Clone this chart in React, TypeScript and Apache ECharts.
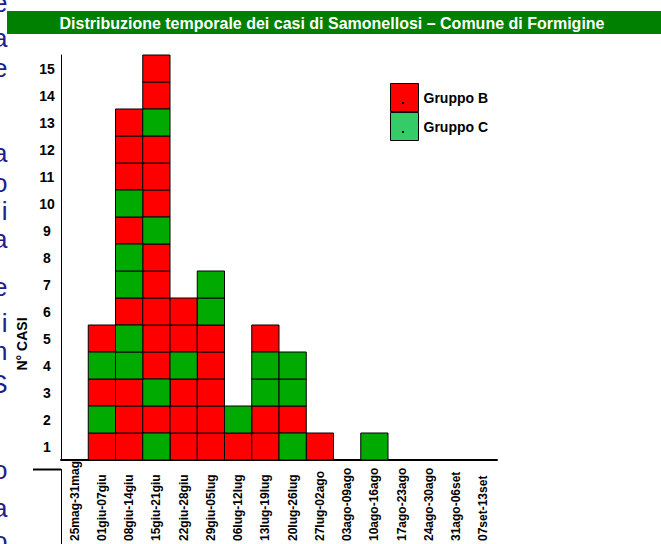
import React, { useEffect, useRef } from 'react';
import * as echarts from 'echarts';

// Weekly periods (x axis)
const categories = [
  '25mag-31mag', '01giu-07giu', '08giu-14giu', '15giu-21giu', '22giu-28giu',
  '29giu-05lug', '06lug-12lug', '13lug-19lug', '20lug-26lug', '27lug-02ago',
  '03ago-09ago', '10ago-16ago', '17ago-23ago', '24ago-30ago', '31ago-06set',
  '07set-13set',
];

// Case count tick labels (y axis)
const yTicks = ['1', '2', '3', '4', '5', '6', '7', '8', '9', '10', '11', '12', '13', '14', '15'];

// Cases per week, one letter per case from bottom to top: B = Gruppo B, C = Gruppo C
const weekCells = [
  '', 'BCBCB', 'BBBCCBCCBCBBB', 'CBCBBBBBCBBBCBB', 'BBBCBB', 'BBBBBCC', 'BC', 'BBCCB',
  'CBCC', 'B', '', 'C', '', '', '', '',
];

const groupNames = ['Gruppo B', 'Gruppo C'];
const groupKeys = ['B', 'C'];

// Fragments of the slide text cut off at the left edge
const slideLetters = ['e', 'a', 'e', 'a', 'o', 'i', 'a', 'e', 'i', 'n', 'S', 'o', 'a', 'o'];
const slideLetterY = [3, 38, 68, 153, 183, 211, 239, 287, 323, 351, 384, 470, 508, 541];

const FONT = "Arial, 'Liberation Sans', sans-serif";

export default function App() {
  const ref = useRef<HTMLDivElement>(null);

  useEffect(() => {
    document.body.style.margin = '0';
    const chart = echarts.init(ref.current!, null, { renderer: 'svg' });

    const colors = ['#ff0000', '#00aa00'];
    const legendColors = ['#ff0000', '#33cc66'];

    const series = groupKeys.map((key, gi) => {
      const data: number[][] = [];
      weekCells.forEach((cells, ci) => {
        cells.split('').forEach((ch, ri) => {
          if (ch === key) data.push([ci, ri]);
        });
      });
      return {
        type: 'custom',
        name: groupNames[gi],
        data,
        encode: { x: 0, y: 1 },
        itemStyle: { color: colors[gi] },
        renderItem: (params: any, api: any) => {
          const c = api.coord([api.value(0), api.value(1)]);
          const s = api.size([1, 1]);
          return {
            type: 'rect',
            shape: { x: c[0] - s[0] / 2, y: c[1] - s[1] / 2, width: s[0], height: s[1] },
            style: { fill: colors[gi], stroke: '#000', lineWidth: 1 },
          };
        },
      };
    });

    const graphic: any[] = [];
    slideLetters.forEach((ch, i) => {
      graphic.push({
        type: 'text',
        z: 0,
        style: {
          text: ch,
          x: 7.5,
          y: slideLetterY[i],
          font: `26px ${FONT}`,
          lineHeight: 22,
          fill: '#1e1e8c',
          textAlign: 'right',
          align: 'right',
          textVerticalAlign: 'middle',
          verticalAlign: 'middle',
        },
      });
    });
    graphic.push(
      {
        type: 'rect',
        shape: { x: 7, y: 11, width: 654, height: 23 },
        style: { fill: '#008000' },
      },
      {
        type: 'text',
        style: {
          text: 'Distribuzione temporale dei casi di Samonellosi – Comune di Formigine',
          x: 332,
          y: 23,
          font: `bold 16px ${FONT}`,
          fill: '#ffffff',
          textAlign: 'center',
          align: 'center',
          textVerticalAlign: 'middle',
          verticalAlign: 'middle',
        },
      },
      {
        type: 'text',
        rotation: Math.PI / 2,
        x: 22,
        y: 344,
        style: {
          text: 'N° CASI',
          x: 0,
          y: 0,
          font: `bold 14px ${FONT}`,
          fill: '#000',
          textAlign: 'center',
          align: 'center',
          textVerticalAlign: 'middle',
          verticalAlign: 'middle',
        },
      },
      {
        type: 'line',
        shape: { x1: 33, y1: 469.5, x2: 61, y2: 469.5 },
        style: { stroke: '#000', lineWidth: 2 },
      },
      {
        type: 'line',
        shape: { x1: 61.5, y1: 469, x2: 61.5, y2: 544 },
        style: { stroke: '#000', lineWidth: 1 },
      },
      {
        type: 'rect',
        shape: { x: 402, y: 102, width: 2, height: 2 },
        style: { fill: '#000' },
        z: 100,
      },
      {
        type: 'rect',
        shape: { x: 402, y: 131, width: 2, height: 2 },
        style: { fill: '#000' },
        z: 100,
      }
    );

    const option: any = {
      animation: false,
      backgroundColor: '#ffffff',
      textStyle: { fontFamily: FONT },
      grid: { left: 61, top: 55, width: 436, height: 414, containLabel: false },
      legend: {
        orient: 'vertical',
        left: 390,
        top: 83,
        padding: 0,
        itemGap: 0,
        itemWidth: 28,
        itemHeight: 28,
        icon: 'rect',
        selectedMode: false,
        textStyle: { fontSize: 14, fontWeight: 'bold', color: '#000', fontFamily: FONT },
        data: groupNames.map((n, i) => ({
          name: n,
          itemStyle: { color: legendColors[i], borderColor: '#000', borderWidth: 1 },
        })),
      },
      xAxis: {
        type: 'category',
        data: categories,
        boundaryGap: true,
        axisLine: { show: true, lineStyle: { color: '#000', width: 2 } },
        axisTick: { show: false },
        splitLine: { show: false },
        axisLabel: {
          interval: 0,
          rotate: 90,
          align: 'left',
          margin: 81,
          fontSize: 12,
          fontWeight: 'bold',
          color: '#000',
          fontFamily: FONT,
          padding: [10, 0, 0, 0],
        },
      },
      yAxis: {
        type: 'category',
        data: yTicks,
        boundaryGap: true,
        axisLine: { show: true, lineStyle: { color: '#000', width: 1 } },
        axisTick: { show: false },
        splitLine: { show: false },
        axisLabel: {
          interval: 0,
          margin: 14,
          align: 'center',
          fontSize: 14,
          fontWeight: 'bold',
          color: '#000',
          fontFamily: FONT,
          padding: [8, 0, 0, 0],
        },
      },
      graphic,
      series,
    };

    chart.setOption(option);
    return () => chart.dispose();
  }, []);

  return <div ref={ref} style={{ width: 661, height: 544 }} />;
}
